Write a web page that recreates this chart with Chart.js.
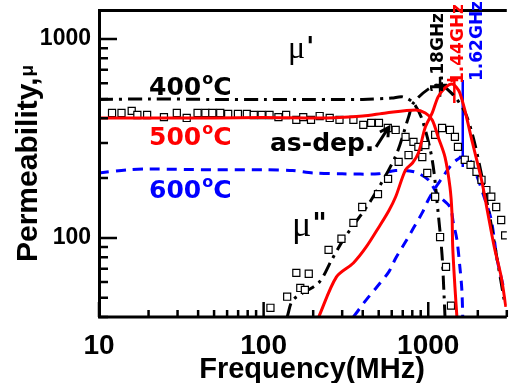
<!DOCTYPE html>
<html>
<head>
<meta charset="utf-8">
<script src="https://cdn.jsdelivr.net/npm/chart.js@4.4.1/dist/chart.umd.min.js"></script>
<style>
  html, body { margin: 0; padding: 0; background: #fff; }
  canvas { display: block; }
</style>
</head>
<body>
<canvas id="c" width="513" height="383"></canvas>
<script>
// === Data (frequency in MHz, permeability) ===
const asDepRealFreq = [12, 13.7, 15.8, 17.1, 19.6, 24.8, 29.7, 34.1, 39.7, 44.3, 48.8, 54.5, 60.9, 69.8, 79.1, 87.1, 97.3, 108.6, 123, 137, 158, 174, 194, 219, 252, 289, 351, 403, 450, 502, 568, 634, 728, 813, 871, 920, 986, 1101, 1180, 1282, 1374];
const asDepReal     = [425, 425, 435, 415, 415, 405, 425, 401, 425, 425, 425, 425, 420, 420, 420, 415, 415, 415, 405, 415, 392, 405, 392, 410, 401, 392, 392, 370, 379, 379, 357, 349, 322, 304, 287, 255, 212, 161, 101, 71.5, 45.6];
const asDepImagFreq = [110, 139, 158, 167, 178, 188, 248, 297, 351, 397, 495, 570, 661, 759, 960, 1101, 1213, 1355, 1452, 1515, 1667, 1807, 1963, 2106, 2254, 2415, 2587, 2773, 2931];
const asDepImag     = [44.5, 50.6, 66.7, 56, 54.8, 66, 87, 99, 119, 143, 166, 198, 241, 261, 293, 330, 357, 349, 322, 287, 247, 233, 215, 196, 174, 161, 143, 123, 103];

const t400RealFreq = [10, 20, 50, 100, 200, 400, 600, 700, 813, 920, 1057, 1148, 1213, 1247, 1264];
const t400Real     = [497, 500, 497, 497, 497, 497, 505, 512, 477, 392, 247, 134, 82, 51.7, 40];
const t400ImagFreq = [139, 151, 216, 259, 310, 450, 634, 759, 813, 1000, 1177, 1400, 1667, 1858, 2047, 2350, 2625, 2890];
const t400Imag     = [40, 48.8, 59.4, 77.5, 100, 155, 258, 405, 477, 560, 587, 530, 430, 330, 233, 131, 77.5, 48.8];

const t500RealFreq = [10, 20, 50, 100, 242, 400, 553, 836, 960, 1057, 1148, 1264, 1355, 1393, 1408, 1452, 1493];
const t500Real     = [401, 401, 401, 403, 401, 410, 425, 440, 425, 392, 322, 255, 180, 134, 90, 56.8, 40];
const t500ImagFreq = [216, 277, 351, 420, 502, 576, 634, 728, 802, 871, 960, 1057, 1148, 1264, 1393, 1493, 1556, 1667, 1858, 2106, 2286, 2518, 2773, 2960];
const t500Imag     = [40, 63.7, 74.8, 90, 113.5, 137, 161, 220, 238, 267, 361, 425, 512, 568, 594, 568, 536, 440, 300, 196, 137, 90, 63.7, 45];

const t600RealFreq = [10, 15, 20, 50, 100, 150, 200, 300, 500, 634, 820, 1000, 1148, 1355, 1420, 1493, 1556, 1600, 1620];
const t600Real     = [212, 220, 222, 220, 220, 218, 212, 210, 210, 218, 215, 196, 164, 143, 119, 98, 71.5, 54.8, 40];
const t600ImagFreq = [351, 420, 482, 576, 634, 728, 813, 920, 1000, 1101, 1213, 1355, 1493, 1623, 1783, 1963, 2194, 2415, 2625, 2890];
const t600Imag     = [40, 48.8, 56, 67.5, 79, 95.5, 112, 134, 155, 178, 200, 228, 247, 255, 247, 207, 159, 123, 77.5, 54.8];

// resonance markers
const resFreq   = [1180, 1440, 1620];
const resLabels = ['1.18GHz', '1.44GHz', '1.62GHz'];
const resColors = ['#000000', '#ff0000', '#0000ff'];
const resTop    = [645, 645, 622];
const resBottom = [512, 477, 227];
const resBarMu  = [587, 622, 255];
const resBarFreq = [[1101, 1300], [1300, 1520], [1535, 1714]];

// arrow pointing to the as-dep. curve
const arrowFrom = { x: 482, y: 287 };
const arrowTo   = { x: 575, y: 360 };

const xTicks = [10, 100, 1000];
const yTicks = [100, 1000];

const xy = (fs, ms) => fs.map((f, i) => ({ x: f, y: ms[i] }));

const lineSet = (data, color, dash) => ({
  data, borderColor: color, borderWidth: 3, borderDash: dash || [],
  pointRadius: 0, fill: false, tension: 0.3, showLine: true
});

const datasets = [
  lineSet(xy(t500RealFreq, t500Real), '#ff0000'),
  lineSet(xy(t500ImagFreq, t500Imag), '#ff0000'),
  {
    data: xy(asDepRealFreq, asDepReal).concat(xy(asDepImagFreq, asDepImag)),
    showLine: false, pointStyle: 'rect', pointRadius: 5, pointBorderWidth: 1.2,
    borderColor: '#000', backgroundColor: '#fff'
  },
  lineSet(xy(t400RealFreq, t400Real), '#000', [14, 6, 3, 6]),
  lineSet(xy(t400ImagFreq, t400Imag), '#000', [14, 6, 3, 6]),
  lineSet(xy(t600RealFreq, t600Real), '#0000ff', [10, 7]),
  lineSet(xy(t600ImagFreq, t600Imag), '#0000ff', [10, 7]),
];
resFreq.forEach((f, i) => {
  datasets.push({ data: [{ x: f, y: resTop[i] }, { x: f, y: resBottom[i] }], borderColor: resColors[i], borderWidth: 2.5, pointRadius: 0, showLine: true });
  datasets.push({ data: [{ x: resBarFreq[i][0], y: resBarMu[i] }, { x: resBarFreq[i][1], y: resBarMu[i] }], borderColor: resColors[i], borderWidth: 2.5, pointRadius: 0, showLine: true });
});

// === Helpers ===
function txt(ctx, s, x, y, font, color) {
  ctx.font = font;
  ctx.fillStyle = color;
  ctx.fillText(s, x, y);
  return x + ctx.measureText(s).width;
}

function degLabel(ctx, num, x, y, color) {
  let cx = txt(ctx, num, x, y, 'bold 25px "DejaVu Sans"', color);
  cx = txt(ctx, 'o', cx + 1, y - 11, 'bold 16px "DejaVu Sans"', color);
  txt(ctx, 'C', cx, y, 'bold 25px "DejaVu Sans"', color);
}

const decor = {
  id: 'decor',
  afterDraw(chart) {
    const { ctx, chartArea: a, scales: { x, y } } = chart;
    ctx.save();
    ctx.textBaseline = 'alphabetic';
    ctx.textAlign = 'left';

    // frame
    ctx.strokeStyle = '#000';
    ctx.lineWidth = 3;
    ctx.beginPath();
    ctx.moveTo(a.right, a.top + 0.5);
    ctx.lineTo(a.left + 0.5, a.top + 0.5);
    ctx.lineTo(a.left + 0.5, a.bottom);
    ctx.lineTo(a.right, a.bottom);
    ctx.stroke();

    // inward ticks
    ctx.lineWidth = 2.5;
    ctx.beginPath();
    for (let e = 1; e <= 3; e++) {
      for (let k = 1; k < 10; k++) {
        const v = k * Math.pow(10, e);
        if (v >= x.min && v <= x.max) {
          const px = x.getPixelForValue(v);
          ctx.moveTo(px, a.bottom);
          ctx.lineTo(px, a.bottom - (k === 1 ? 15 : 7));
        }
        if (v >= y.min && v <= y.max) {
          const py = y.getPixelForValue(v);
          ctx.moveTo(a.left, py);
          ctx.lineTo(a.left + (k === 1 ? 18 : 9), py);
        }
      }
    }
    ctx.stroke();

    // axis titles
    ctx.textAlign = 'center';
    txt(ctx, 'Frequency(MHz)', 312, 378, 'bold 29px "Liberation Sans"', '#000');
    ctx.textAlign = 'left';
    ctx.save();
    ctx.translate(37, 262);
    ctx.rotate(-Math.PI / 2);
    const w = txt(ctx, 'Permeability,', 0, 0, 'bold 30px "Liberation Sans"', '#000');
    txt(ctx, 'μ', w + 1, -4, 'bold 19px "Liberation Sans"', '#000');
    ctx.restore();

    // series labels
    degLabel(ctx, '400', 149, 95, '#000');
    degLabel(ctx, '500', 149, 145, '#ff0000');
    degLabel(ctx, '600', 149, 198, '#0000ff');
    txt(ctx, 'as-dep.', 270, 151, 'bold 25px "DejaVu Sans"', '#000');

    let cx = txt(ctx, 'μ', 288, 58, '32px "Liberation Serif"', '#000');
    txt(ctx, "'", cx + 1, 56, 'bold 26px "DejaVu Sans"', '#000');
    cx = txt(ctx, 'μ', 292, 236, '36px "Liberation Serif"', '#000');
    txt(ctx, '"', cx + 1, 233, 'bold 28px "DejaVu Sans"', '#000');

    // arrow to as-dep.
    const x0 = x.getPixelForValue(arrowFrom.x), y0 = y.getPixelForValue(arrowFrom.y);
    const x1 = x.getPixelForValue(arrowTo.x), y1 = y.getPixelForValue(arrowTo.y);
    const ang = Math.atan2(y1 - y0, x1 - x0);
    ctx.strokeStyle = '#000';
    ctx.lineWidth = 3;
    ctx.beginPath();
    ctx.moveTo(x0, y0);
    ctx.lineTo(x1, y1);
    ctx.moveTo(x1 - 10 * Math.cos(ang - 0.5), y1 - 10 * Math.sin(ang - 0.5));
    ctx.lineTo(x1, y1);
    ctx.lineTo(x1 - 10 * Math.cos(ang + 0.5), y1 - 10 * Math.sin(ang + 0.5));
    ctx.stroke();

    // resonance labels, rotated
    const resPos = [[443, 93], [463, 84], [482, 81]];
    resLabels.forEach((s, i) => {
      ctx.save();
      ctx.translate(resPos[i][0], resPos[i][1]);
      ctx.rotate(-Math.PI / 2);
      txt(ctx, s, 0, 0, 'bold 17px "DejaVu Sans"', resColors[i]);
      ctx.restore();
    });
    ctx.restore();
  }
};

new Chart(document.getElementById('c'), {
  type: 'scatter',
  data: { datasets },
  options: {
    responsive: false,
    animation: false,
    devicePixelRatio: 1,
    layout: { padding: { top: 10, right: 0, left: 0, bottom: 0 } },
    plugins: { legend: { display: false }, tooltip: { enabled: false } },
    scales: {
      x: {
        type: 'logarithmic', min: 10, max: 3000,
        grid: { display: false, drawTicks: false }, border: { display: false },
        afterBuildTicks: s => { s.ticks = xTicks.map(v => ({ value: v })); },
        afterFit: s => { s.height = 66; s.paddingLeft = 0; s.paddingRight = 0; },
        ticks: {
          autoSkip: false, maxRotation: 0, padding: 12, color: '#000',
          font: { family: 'Liberation Sans', size: 28, weight: 'bold' },
          callback: v => String(v)
        }
      },
      y: {
        type: 'logarithmic', min: 40, max: 1400,
        grid: { display: false, drawTicks: false }, border: { display: false },
        afterBuildTicks: s => { s.ticks = yTicks.map(v => ({ value: v })); },
        afterFit: s => { s.width = 99; s.paddingTop = 0; s.paddingBottom = 0; },
        ticks: {
          autoSkip: false, padding: 8, color: '#000',
          font: { family: 'Liberation Sans', size: 23, weight: 'bold' },
          callback: v => String(v)
        }
      }
    }
  },
  plugins: [decor]
});
</script>
</body>
</html>
